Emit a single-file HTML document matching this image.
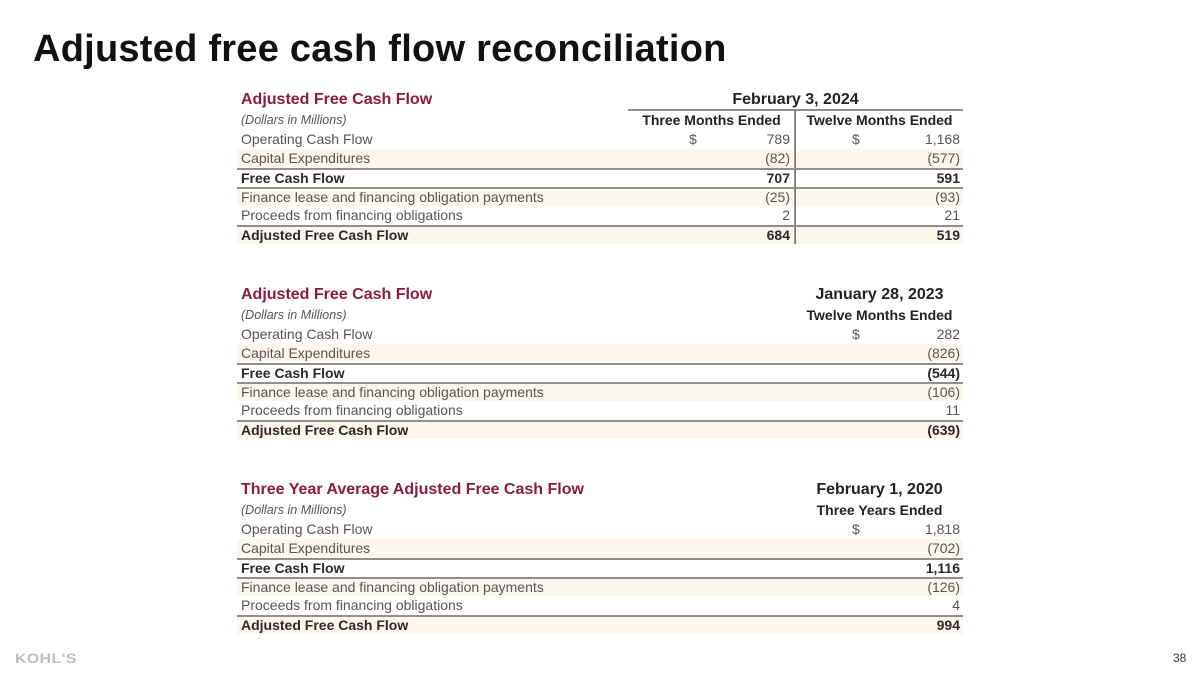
<!DOCTYPE html>
<html>
<head>
<meta charset="utf-8">
<style>
  html,body{margin:0;padding:0;background:#fff;}
  body{width:1200px;height:675px;position:relative;overflow:hidden;font-family:"Liberation Sans",sans-serif;}
  .title{position:absolute;left:33px;top:30px;font-size:38px;line-height:38px;font-weight:bold;color:#111;letter-spacing:0.25px;white-space:nowrap;}
  .tbl{position:absolute;left:0;width:1200px;height:160px;}
  .abs{position:absolute;white-space:nowrap;}
  .sec{left:241px;top:2px;font-size:16px;line-height:19px;font-weight:bold;color:#8c1c3c;}
  .date{font-size:16px;line-height:19px;font-weight:bold;color:#222;text-align:center;top:2px;}
  .hdr{font-size:14px;line-height:19px;font-weight:bold;color:#222;text-align:center;top:23px;}
  .dol{left:241px;top:23px;font-size:12.5px;line-height:19px;font-style:italic;color:#555;}
  .row{position:absolute;left:237px;width:726px;height:19px;font-size:14px;line-height:19px;color:#555;}
  .row.c{background:#fbf7ed;}
  .row.b{color:#2a2a2a;font-weight:bold;}
  .row.l{border-top:2px solid #8f8f8f;height:17px;line-height:17px;}
  .row span{position:absolute;white-space:nowrap;}
  .lab{left:4px;}
  .hline{position:absolute;height:2px;background:#8f8f8f;}
  .vline{position:absolute;width:1px;background:#777;border-left:1px solid #999;}
  .logo{position:absolute;left:15px;top:650px;font-size:14px;line-height:16px;font-weight:bold;color:#bdbdbd;letter-spacing:0.4px;transform:scaleX(1.13);transform-origin:left center;}
  .pg{position:absolute;left:1173px;top:650px;font-size:12px;line-height:16px;color:#333;}
</style>
</head>
<body>
<div class="title">Adjusted free cash flow reconciliation</div>

<!-- Table 1 -->
<div class="tbl" style="top:88px;">
  <div class="abs sec">Adjusted Free Cash Flow</div>
  <div class="abs date" style="left:628px;width:335px;">February 3, 2024</div>
  <div class="hline" style="left:628px;width:335px;top:21px;"></div>
  <div class="abs dol">(Dollars in Millions)</div>
  <div class="abs hdr" style="left:628px;width:167px;">Three Months Ended</div>
  <div class="abs hdr" style="left:796px;width:167px;">Twelve Months Ended</div>

  <div class="row" style="top:42px;"><span class="lab">Operating Cash Flow</span><span style="left:452px;">$</span><span style="right:173px;">789</span><span style="left:615px;">$</span><span style="right:3px;">1,168</span></div>
  <div class="row c" style="top:61px;"><span class="lab">Capital Expenditures</span><span style="right:173px;">(82)</span><span style="right:3px;">(577)</span></div>
  <div class="row b l" style="top:80px;"><span class="lab">Free Cash Flow</span><span style="right:173px;">707</span><span style="right:3px;">591</span></div>
  <div class="row c l" style="top:99px;"><span class="lab">Finance lease and financing obligation payments</span><span style="right:173px;">(25)</span><span style="right:3px;">(93)</span></div>
  <div class="row" style="top:118px;"><span class="lab">Proceeds from financing obligations</span><span style="right:173px;">2</span><span style="right:3px;">21</span></div>
  <div class="row c b l" style="top:137px;"><span class="lab">Adjusted Free Cash Flow</span><span style="right:173px;">684</span><span style="right:3px;">519</span></div>
  <div class="vline" style="left:794px;top:22px;height:134px;"></div>
</div>

<!-- Table 2 -->
<div class="tbl" style="top:283px;">
  <div class="abs sec">Adjusted Free Cash Flow</div>
  <div class="abs date" style="left:796px;width:167px;">January 28, 2023</div>
  <div class="abs dol">(Dollars in Millions)</div>
  <div class="abs hdr" style="left:796px;width:167px;">Twelve Months Ended</div>

  <div class="row" style="top:42px;"><span class="lab">Operating Cash Flow</span><span style="left:615px;">$</span><span style="right:3px;">282</span></div>
  <div class="row c" style="top:61px;"><span class="lab">Capital Expenditures</span><span style="right:3px;">(826)</span></div>
  <div class="row b l" style="top:80px;"><span class="lab">Free Cash Flow</span><span style="right:3px;">(544)</span></div>
  <div class="row c l" style="top:99px;"><span class="lab">Finance lease and financing obligation payments</span><span style="right:3px;">(106)</span></div>
  <div class="row" style="top:118px;"><span class="lab">Proceeds from financing obligations</span><span style="right:3px;">11</span></div>
  <div class="row c b l" style="top:137px;"><span class="lab">Adjusted Free Cash Flow</span><span style="right:3px;">(639)</span></div>
</div>

<!-- Table 3 -->
<div class="tbl" style="top:478px;">
  <div class="abs sec">Three Year Average Adjusted Free Cash Flow</div>
  <div class="abs date" style="left:796px;width:167px;">February 1, 2020</div>
  <div class="abs dol">(Dollars in Millions)</div>
  <div class="abs hdr" style="left:796px;width:167px;">Three Years Ended</div>

  <div class="row" style="top:42px;"><span class="lab">Operating Cash Flow</span><span style="left:615px;">$</span><span style="right:3px;">1,818</span></div>
  <div class="row c" style="top:61px;"><span class="lab">Capital Expenditures</span><span style="right:3px;">(702)</span></div>
  <div class="row b l" style="top:80px;"><span class="lab">Free Cash Flow</span><span style="right:3px;">1,116</span></div>
  <div class="row c l" style="top:99px;"><span class="lab">Finance lease and financing obligation payments</span><span style="right:3px;">(126)</span></div>
  <div class="row" style="top:118px;"><span class="lab">Proceeds from financing obligations</span><span style="right:3px;">4</span></div>
  <div class="row c b l" style="top:137px;"><span class="lab">Adjusted Free Cash Flow</span><span style="right:3px;">994</span></div>
</div>

<div class="logo">KOHL'S</div>
<div class="pg">38</div>
</body>
</html>
